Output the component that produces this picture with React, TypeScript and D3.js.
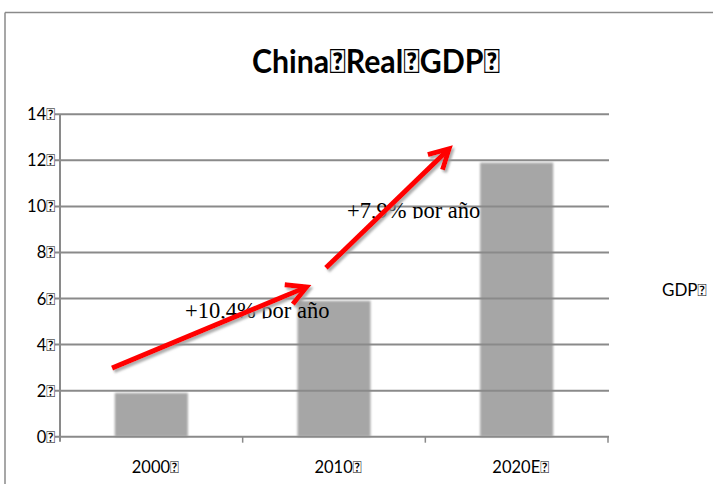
import React from "react";
import * as d3 from "d3";

const T = "\uE000";
const categories = ["2000", "2010", "2020E"];
const gdpValues = [1.9, 5.9, 11.9];
const yTicks = [0, 2, 4, 6, 8, 10, 12, 14];
const titleText = `China${T}Real${T}GDP${T}`;
const seriesName = `GDP${T}`;
// arrows in data coords: [catIndexPos, value]
const arrowStarts = [[0.285, 2.98], [1.456, 7.33]];
const arrowEnds = [[1.35, 6.5], [2.13, 12.5]];
const growthLabels = ["+10,4% por año", "+7,9% por año"];
const growthLabelPos = [[0.684, 5.15], [1.571, 9.5]];

const W = 713, H = 484;
const left = 60, right = 608, top = 114.3, bottom = 436.7;

export default function App() {
  const x = d3.scaleBand<string>().domain(categories).range([left, right]).paddingInner(0.6).paddingOuter(0.3);
  const xi = d3.scaleLinear().domain([0, 3]).range([left, right]);
  const y = d3.scaleLinear().domain([0, 14]).range([bottom, top]);
  const step = x.step();
  const grid = "#8a8a8a";
  const arrowHead = (sx: number, sy: number, ex: number, ey: number) => {
    const ang = Math.atan2(ey - sy, ex - sx);
    const L = 22, a = 0.5;
    const p1 = [ex - L * Math.cos(ang - a), ey - L * Math.sin(ang - a)];
    const p2 = [ex - L * Math.cos(ang + a), ey - L * Math.sin(ang + a)];
    return `M${p1[0]},${p1[1]}L${ex},${ey}L${p2[0]},${p2[1]}`;
  };
  return (
    <svg width={W} height={H} style={{ position: "absolute", left: 0, top: 0, background: "#fff" }}>
      <defs>
        <filter id="soft" x="-10%" y="-10%" width="120%" height="120%">
          <feGaussianBlur stdDeviation="1.1" />
        </filter>
        <filter id="shadow" x="-20%" y="-20%" width="140%" height="140%">
          <feDropShadow dx="2" dy="2.5" stdDeviation="1" floodColor="#999" floodOpacity="0.8" />
        </filter>
        {growthLabelPos.map((p, i) => (
          <clipPath id={`clip${i}`} key={i}>
            <rect x={xi(p[0]) - 5} y={y(p[1]) - 30} width={200} height={30.5} />
          </clipPath>
        ))}
      </defs>
      <line x1={5} y1={12.5} x2={W} y2={12.5} stroke={grid} strokeWidth={1.5} />
      <line x1={5} y1={12.5} x2={5} y2={H} stroke={grid} strokeWidth={1.5} />
      <text x={252} y={73} textLength={248} lengthAdjust="spacingAndGlyphs" fontFamily="Lato" fontWeight="bold" fontSize={33} fill="#000">{titleText}</text>
      {categories.map((c, i) => (
        <rect key={c} x={x(c)} y={y(gdpValues[i])} width={x.bandwidth()} height={y(0) - y(gdpValues[i])} fill="#a6a6a6" filter="url(#soft)" />
      ))}
      {yTicks.map((t) => (
        <g key={t}>
          <line x1={left - 5} x2={right + 1} y1={y(t)} y2={y(t)} stroke={grid} strokeWidth={2} />
          <text x={55} y={y(t) + 6} textAnchor="end" fontFamily="Lato" fontSize={16.5} fill="#000">{`${t}${T}`}</text>
        </g>
      ))}
      <line x1={left} x2={left} y1={top} y2={bottom + 5} stroke={grid} strokeWidth={2} />
      {categories.map((c, i) => (
        <g key={c}>
          <line x1={left + step * (i + 1)} x2={left + step * (i + 1)} y1={bottom} y2={bottom + 6} stroke={grid} strokeWidth={1.5} />
          <text x={(x(c) as number) + x.bandwidth() / 2 + 4} y={473} textAnchor="middle" fontFamily="Lato" fontSize={16.5} fill="#000">{`${c}${T}`}</text>
        </g>
      ))}
      <text x={662} y={296} fontFamily="Lato" fontSize={17} fill="#000">{seriesName}</text>
      {growthLabels.map((s, i) => (
        <text key={s} x={xi(growthLabelPos[i][0])} y={y(growthLabelPos[i][1])} fontFamily="Liberation Serif" fontSize={22.5} fill="#000" clipPath={`url(#clip${i})`}>{s}</text>
      ))}
      {arrowStarts.map((s, i) => {
        const sx = xi(s[0]), sy = y(s[1]), ex = xi(arrowEnds[i][0]), ey = y(arrowEnds[i][1]);
        return (
          <g key={i} filter="url(#shadow)">
            <line x1={sx} y1={sy} x2={ex} y2={ey} stroke="#ff0000" strokeWidth={5} />
            <path d={arrowHead(sx, sy, ex, ey)} fill="none" stroke="#ff0000" strokeWidth={5} strokeLinejoin="miter" />
          </g>
        );
      })}
    </svg>
  );
}
